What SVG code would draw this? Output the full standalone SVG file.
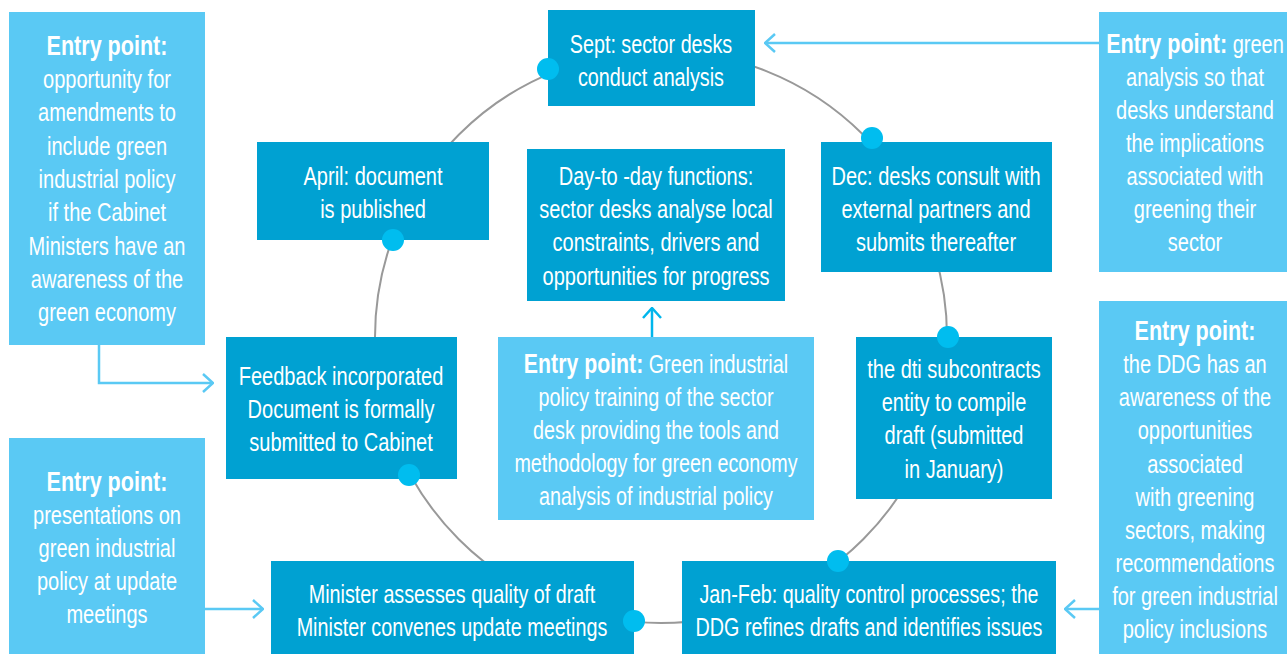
<svg xmlns="http://www.w3.org/2000/svg" width="1287" height="654" viewBox="0 0 1287 654">
<style>
.dark{fill:#00A1D2}
.light{fill:#5AC9F4}
.t{font-family:"Liberation Sans",Arial,sans-serif;font-size:26px;fill:#fff;text-anchor:middle}
.b{font-weight:bold;font-size:28px}
.dot{fill:#00BDEF}
.ring{fill:none;stroke:#999;stroke-width:2}
.arr{fill:none;stroke:#5AC9F4;stroke-width:2.5}
.arr2{fill:none;stroke:#00B6EC;stroke-width:2.5}
</style>
<defs>
<marker id="ah" viewBox="0 0 12 20" refX="11" refY="10" markerWidth="12" markerHeight="20" markerUnits="userSpaceOnUse" orient="auto">
<polyline points="1,1 11,10 1,19" fill="none" stroke="#5AC9F4" stroke-width="2.5"/>
</marker>
<marker id="ah2" viewBox="0 0 12 20" refX="11" refY="10" markerWidth="12" markerHeight="20" markerUnits="userSpaceOnUse" orient="auto">
<polyline points="1,1 11,10 1,19" fill="none" stroke="#00B6EC" stroke-width="2.5"/>
</marker>
</defs>
<rect width="1287" height="654" fill="#fff"/>
<g id="connectors">
<circle class="ring" cx="661" cy="337" r="286"/>
<polyline class="arr" points="1099,43 765,43" marker-end="url(#ah)"/>
<polyline class="arr" points="99,345 99,383 213,383" marker-end="url(#ah)"/>
<polyline class="arr" points="205,609 263,609" marker-end="url(#ah)"/>
<polyline class="arr" points="1099,609 1065,609" marker-end="url(#ah)"/>
<polyline class="arr2" points="652,337 652,308" marker-end="url(#ah2)"/>
</g>
<g id="entry-amendments">
<rect class="light" x="9" y="12" width="196" height="333"/>
<text class="t" transform="translate(107 0) scale(0.77 1)"><tspan class="b" x="0" y="55">Entry point:</tspan><tspan x="0" y="88">opportunity for</tspan><tspan x="0" y="121">amendments to</tspan><tspan x="0" y="155">include green</tspan><tspan x="0" y="188">industrial policy</tspan><tspan x="0" y="221">if the Cabinet</tspan><tspan x="0" y="255">Ministers have an</tspan><tspan x="0" y="288">awareness of the</tspan><tspan x="0" y="321">green economy</tspan></text>
</g>
<g id="april">
<rect class="dark" x="257" y="142" width="232" height="98"/>
<text class="t" transform="translate(373 0) scale(0.77 1)"><tspan x="0" y="185">April: document</tspan><tspan x="0" y="218">is published</tspan></text>
<circle class="dot" cx="393" cy="240" r="11"/>
</g>
<g id="sept">
<rect class="dark" x="548" y="10" width="207" height="96"/>
<text class="t" transform="translate(651 0) scale(0.76 1)"><tspan x="0" y="53">Sept: sector desks</tspan><tspan x="0" y="86">conduct analysis</tspan></text>
<circle class="dot" cx="548" cy="69" r="11"/>
</g>
<g id="daytoday">
<rect class="dark" x="527" y="149" width="258" height="152"/>
<text class="t" transform="translate(656 0) scale(0.77 1)"><tspan x="0" y="185">Day-to -day functions:</tspan><tspan x="0" y="218">sector desks analyse local</tspan><tspan x="0" y="251">constraints, drivers and</tspan><tspan x="0" y="285">opportunities for progress</tspan></text>
</g>
<g id="dec">
<rect class="dark" x="821" y="142" width="231" height="130"/>
<text class="t" transform="translate(936 0) scale(0.77 1)"><tspan x="0" y="185">Dec: desks consult with</tspan><tspan x="0" y="218">external partners and</tspan><tspan x="0" y="251">submits thereafter</tspan></text>
<circle class="dot" cx="872" cy="138" r="11"/>
</g>
<g id="entry-green-analysis">
<rect class="light" x="1099" y="12" width="188" height="260"/>
<text class="t" transform="translate(1195 0) scale(0.77 1)"><tspan x="0" y="53"><tspan class="b">Entry point:</tspan> green</tspan><tspan x="0" y="86">analysis so that</tspan><tspan x="0" y="119">desks understand</tspan><tspan x="0" y="152">the implications</tspan><tspan x="0" y="185">associated with</tspan><tspan x="0" y="218">greening their</tspan><tspan x="0" y="251">sector</tspan></text>
</g>
<g id="dti">
<rect class="dark" x="856" y="337" width="196" height="162"/>
<text class="t" transform="translate(954 0) scale(0.77 1)"><tspan x="0" y="378">the dti subcontracts</tspan><tspan x="0" y="411">entity to compile</tspan><tspan x="0" y="444">draft (submitted</tspan><tspan x="0" y="478">in January)</tspan></text>
<circle class="dot" cx="948" cy="337" r="11"/>
</g>
<g id="entry-ddg">
<rect class="light" x="1099" y="301" width="188" height="353"/>
<text class="t" transform="translate(1195 0) scale(0.77 1)"><tspan class="b" x="0" y="340">Entry point:</tspan><tspan x="0" y="373">the DDG has an</tspan><tspan x="0" y="406">awareness of the</tspan><tspan x="0" y="439">opportunities</tspan><tspan x="0" y="473">associated</tspan><tspan x="0" y="506">with greening</tspan><tspan x="0" y="539">sectors, making</tspan><tspan x="0" y="572">recommendations</tspan><tspan x="0" y="605">for green industrial</tspan><tspan x="0" y="638">policy inclusions</tspan></text>
</g>
<g id="feedback">
<rect class="dark" x="226" y="337" width="231" height="142"/>
<text class="t" transform="translate(341 0) scale(0.77 1)"><tspan x="0" y="385">Feedback incorporated</tspan><tspan x="0" y="418">Document is formally</tspan><tspan x="0" y="451">submitted to Cabinet</tspan></text>
<circle class="dot" cx="409" cy="475" r="11"/>
</g>
<g id="entry-training">
<rect class="light" x="498" y="337" width="316" height="183"/>
<text class="t" transform="translate(656 0) scale(0.76 1)"><tspan x="0" y="373"><tspan class="b">Entry point:</tspan> Green industrial</tspan><tspan x="0" y="406">policy training of the sector</tspan><tspan x="0" y="439">desk providing the tools and</tspan><tspan x="0" y="472">methodology for green economy</tspan><tspan x="0" y="505">analysis of industrial policy</tspan></text>
</g>
<g id="entry-presentations">
<rect class="light" x="9" y="438" width="196" height="216"/>
<text class="t" transform="translate(107 0) scale(0.77 1)"><tspan class="b" x="0" y="491">Entry point:</tspan><tspan x="0" y="524">presentations on</tspan><tspan x="0" y="557">green industrial</tspan><tspan x="0" y="590">policy at update</tspan><tspan x="0" y="623">meetings</tspan></text>
</g>
<g id="minister">
<rect class="dark" x="271" y="561" width="363" height="93"/>
<text class="t" transform="translate(452 0) scale(0.76 1)"><tspan x="0" y="603">Minister assesses quality of draft</tspan><tspan x="0" y="636">Minister convenes update meetings</tspan></text>
<circle class="dot" cx="634" cy="621" r="11"/>
</g>
<g id="janfeb">
<rect class="dark" x="682" y="561" width="374" height="93"/>
<text class="t" transform="translate(869 0) scale(0.76 1)"><tspan x="0" y="603">Jan-Feb: quality control processes; the</tspan><tspan x="0" y="636">DDG refines drafts and identifies issues</tspan></text>
<circle class="dot" cx="838" cy="561" r="11"/>
</g>
</svg>
